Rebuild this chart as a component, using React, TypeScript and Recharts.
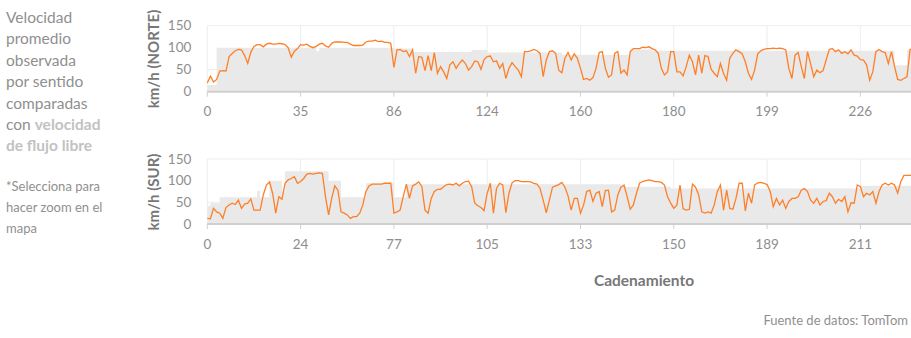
import { ComposedChart, Area, Line, XAxis, YAxis, CartesianGrid } from "recharts";

// km markers shown under each panel (one every 30 samples)
const NORTE_TICKS = ["0", "35", "86", "124", "160", "180", "199", "226"];
const SUR_TICKS = ["0", "24", "77", "105", "133", "150", "189", "211"];

// observed average speed, northbound (km/h)
const NORTE_OBS = [
  20, 35, 22, 28, 47, 48, 47, 80, 87, 93,
  96, 95, 82, 64, 90, 103, 107, 107, 102, 108,
  110, 108, 108, 110, 109, 107, 100, 78, 92, 98,
  107, 106, 108, 103, 100, 103, 108, 110, 104, 101,
  110, 113, 113, 113, 112, 112, 108, 105, 105, 105,
  106, 113, 115, 115, 117, 114, 115, 112, 112, 110,
  55, 95, 96, 91, 93, 80, 95, 42, 80, 78,
  48, 82, 48, 89, 42, 57, 45, 30, 61, 68,
  53, 64, 72, 64, 49, 57, 70, 68, 51, 73,
  80, 81, 68, 70, 53, 64, 30, 53, 66, 57,
  49, 34, 91, 91, 93, 96, 93, 87, 34, 72,
  91, 93, 87, 49, 43, 76, 89, 72, 86, 76,
  53, 28, 30, 26, 32, 53, 89, 91, 53, 33,
  38, 87, 91, 42, 49, 38, 91, 98, 98, 98,
  101, 100, 102, 98, 95, 87, 53, 38, 45, 91,
  91, 45, 45, 36, 57, 83, 68, 38, 83, 42,
  82, 80, 51, 42, 34, 64, 42, 26, 76, 87,
  95, 91, 86, 68, 42, 28, 49, 86, 93, 96,
  98, 98, 99, 98, 99, 98, 95, 53, 30, 83,
  89, 57, 30, 91, 64, 34, 49, 43, 48, 72,
  96, 98, 91, 95, 87, 91, 86, 95, 83, 81,
  73, 72, 61, 26, 45, 91, 96, 91, 89, 64,
  91, 57, 28, 26, 30, 34, 96, 98, 100, 98,
  96, 95,
];

// free-flow speed, northbound (km/h)
const NORTE_FLUJO = [
  15, 15, 15, 100, 100, 100, 100, 100, 100, 100,
  100, 100, 100, 100, 100, 100, 100, 100, 100, 100,
  100, 100, 100, 100, 100, 100, 100, 100, 100, 100,
  100, 100, 100, 100, 100, 92, 100, 100, 100, 100,
  100, 100, 100, 100, 100, 100, 100, 100, 100, 100,
  100, 100, 100, 100, 100, 100, 100, 100, 100, 100,
  98, 98, 98, 98, 98, 98, 90, 90, 90, 90,
  90, 90, 90, 90, 90, 90, 90, 90, 90, 90,
  90, 90, 90, 90, 90, 95, 95, 95, 95, 95,
  89, 89, 89, 89, 89, 89, 89, 89, 89, 89,
  89, 89, 89, 89, 89, 89, 89, 89, 89, 89,
  89, 89, 89, 89, 84, 84, 84, 84, 84, 84,
  84, 84, 84, 84, 84, 84, 84, 84, 84, 84,
  84, 84, 84, 84, 84, 84, 96, 96, 96, 96,
  96, 96, 96, 93, 93, 93, 93, 93, 93, 93,
  93, 93, 93, 93, 93, 93, 93, 93, 93, 93,
  93, 93, 93, 93, 93, 93, 93, 93, 93, 93,
  93, 93, 93, 93, 93, 93, 93, 93, 93, 93,
  93, 93, 93, 93, 93, 93, 93, 93, 93, 93,
  93, 93, 93, 93, 93, 93, 93, 93, 93, 93,
  93, 93, 93, 93, 93, 93, 93, 93, 93, 93,
  93, 93, 93, 93, 93, 93, 93, 93, 93, 93,
  93, 60, 60, 60, 60, 96, 96, 96, 96, 96,
  96, 96,
];

// observed average speed, southbound (km/h)
const SUR_OBS = [
  13, 12, 36, 28, 25, 13, 38, 44, 48, 45,
  55, 36, 46, 48, 58, 32, 32, 32, 67, 90,
  97, 71, 25, 63, 57, 94, 102, 105, 109, 94,
  98, 105, 115, 117, 115, 117, 118, 117, 63, 21,
  59, 88, 78, 28, 25, 21, 13, 17, 17, 25,
  44, 75, 88, 92, 92, 92, 92, 94, 94, 94,
  25, 28, 32, 63, 92, 59, 88, 92, 97, 86,
  32, 25, 59, 75, 80, 80, 86, 91, 92, 90,
  94, 88, 94, 98, 99, 86, 48, 42, 38, 31,
  71, 94, 25, 82, 94, 90, 26, 71, 95, 100,
  100, 98, 98, 98, 97, 94, 92, 82, 55, 26,
  55, 85, 88, 91, 96, 85, 65, 32, 59, 59,
  25, 44, 75, 78, 52, 71, 75, 40, 77, 78,
  28, 32, 67, 85, 90, 63, 34, 44, 71, 94,
  98, 100, 102, 100, 98, 98, 96, 90, 63, 48,
  36, 44, 90, 35, 32, 34, 92, 85, 67, 28,
  25, 28, 25, 44, 75, 90, 32, 78, 36, 34,
  59, 94, 94, 30, 71, 48, 90, 95, 96, 94,
  91, 75, 40, 59, 44, 55, 36, 52, 59, 59,
  63, 78, 82, 75, 55, 48, 59, 44, 52, 54,
  71, 63, 48, 57, 52, 63, 28, 49, 48, 90,
  86, 63, 71, 67, 75, 48, 75, 90, 94, 90,
  94, 90, 71, 98, 112, 112, 112, 112, 112, 112,
  112, 112,
];

// free-flow speed, southbound (km/h)
const SUR_FLUJO = [
  42, 48, 48, 48, 62, 62, 62, 62, 62, 62,
  62, 62, 62, 62, 62, 62, 76, 62, 62, 62,
  100, 100, 100, 100, 75, 122, 122, 122, 122, 122,
  122, 122, 122, 122, 122, 122, 122, 122, 122, 100,
  100, 100, 100, 62, 62, 62, 62, 62, 62, 62,
  62, 94, 94, 94, 94, 94, 94, 94, 94, 94,
  62, 62, 62, 62, 92, 92, 92, 92, 92, 92,
  92, 92, 92, 92, 92, 92, 92, 92, 92, 92,
  92, 92, 92, 92, 92, 92, 92, 92, 92, 92,
  92, 92, 92, 92, 92, 92, 92, 92, 92, 92,
  92, 92, 92, 92, 92, 92, 92, 92, 92, 92,
  92, 92, 92, 92, 92, 92, 92, 92, 92, 92,
  92, 92, 92, 92, 92, 92, 92, 92, 92, 92,
  92, 92, 92, 86, 86, 86, 86, 86, 86, 86,
  86, 86, 86, 86, 86, 86, 86, 86, 86, 82,
  82, 82, 82, 82, 82, 82, 82, 82, 82, 82,
  82, 82, 82, 82, 82, 82, 82, 82, 82, 82,
  82, 82, 82, 82, 82, 82, 82, 82, 82, 82,
  82, 82, 82, 82, 82, 82, 82, 82, 82, 82,
  82, 82, 82, 82, 82, 82, 82, 82, 82, 82,
  82, 82, 82, 82, 82, 82, 82, 82, 82, 82,
  88, 88, 88, 88, 88, 88, 88, 88, 88, 88,
  88, 88, 88, 88, 88, 88, 88, 88, 88, 88,
  88, 88,
];

const TICK_STEP = 30;
const FONT = "Lato, 'Open Sans', sans-serif";

interface PanelProps {
  obs: number[];
  flujo: number[];
  labels: string[];
  top: number;
  marginTop: number;
  plotHeight: number;
}

function SpeedPanel({ obs, flujo, labels, top, marginTop, plotHeight }: PanelProps) {
  const chartData = obs.map((v, i) => ({ i, obs: v, flujo: flujo[i] }));
  const last = obs.length - 1;
  const ticks = labels.map((_, k) => k * TICK_STEP);

  return (
    <div style={{ position: "absolute", left: 0, top }}>
      <ComposedChart
        width={940}
        height={marginTop + plotHeight + 30}
        data={chartData}
        margin={{ top: marginTop, right: 14.3, left: 0, bottom: 0 }}
      >
        <CartesianGrid stroke="#ededed" strokeWidth={1} />
        <XAxis
          dataKey="i"
          type="number"
          domain={[0, last]}
          ticks={ticks}
          interval={0}
          tickFormatter={(v: number) => labels[Math.round(v / TICK_STEP)]}
          axisLine={{ stroke: "#cfcfcf", strokeWidth: 2 }}
          tickLine={{ stroke: "#cfcfcf" }}
          tickSize={5}
          tickMargin={10}
          height={30}
          tick={{ fill: "#8e8e8e", fontSize: 13.5, fontFamily: FONT }}
        />
        <YAxis
          domain={[0, 150]}
          ticks={[0, 50, 100, 150]}
          axisLine={false}
          tickLine={false}
          width={207.3}
          tickMargin={10}
          tick={{ fill: "#8e8e8e", fontSize: 13.5, fontFamily: FONT }}
        />
        <Area
          type="stepAfter"
          dataKey="flujo"
          stroke="none"
          fill="#e9e9e9"
          fillOpacity={1}
          isAnimationActive={false}
        />
        <Line
          type="linear"
          dataKey="obs"
          stroke="#ff7f27"
          strokeWidth={1.3}
          dot={false}
          isAnimationActive={false}
        />
      </ComposedChart>
    </div>
  );
}

function AxisTitle({ text, x, y }: { text: string; x: number; y: number }) {
  return (
    <div
      style={{
        position: "absolute",
        left: x,
        top: y,
        transform: "translate(-50%, -50%) rotate(-90deg)",
        whiteSpace: "nowrap",
        fontSize: 15,
        fontWeight: 700,
        color: "#777",
      }}
    >
      {text}
    </div>
  );
}

export default function App() {
  return (
    <div
      style={{
        position: "fixed",
        left: 0,
        top: 0,
        width: 911,
        height: 338,
        overflow: "hidden",
        background: "#fff",
        fontFamily: FONT,
      }}
    >
      <div
        style={{
          position: "absolute",
          left: 6,
          top: 7,
          width: 130,
          fontSize: 15.5,
          lineHeight: "21.4px",
          color: "#8f8f8f",
        }}
      >
        Velocidad
        <br />
        promedio
        <br />
        observada
        <br />
        por sentido
        <br />
        comparadas
        <br />
        con{" "}
        <span style={{ color: "#c2c2c2", fontWeight: 700 }}>
          velocidad
          <br />
          de flujo libre
        </span>
      </div>
      <div
        style={{
          position: "absolute",
          left: 6,
          top: 176,
          width: 130,
          fontSize: 13,
          lineHeight: "21px",
          color: "#8f8f8f",
        }}
      >
        *Selecciona para
        <br />
        hacer zoom en el
        <br />
        mapa
      </div>

      <SpeedPanel
        obs={NORTE_OBS}
        flujo={NORTE_FLUJO}
        labels={NORTE_TICKS}
        top={0}
        marginTop={25.7}
        plotHeight={66}
      />
      <SpeedPanel
        obs={SUR_OBS}
        flujo={SUR_FLUJO}
        labels={SUR_TICKS}
        top={133}
        marginTop={26}
        plotHeight={65}
      />

      <AxisTitle text="km/h (NORTE)" x={153} y={59} />
      <AxisTitle text="km/h (SUR)" x={153} y={192} />

      <div
        style={{
          position: "absolute",
          left: 644,
          top: 280,
          transform: "translate(-50%, -50%)",
          fontSize: 15.5,
          fontWeight: 700,
          color: "#777",
          whiteSpace: "nowrap",
        }}
      >
        Cadenamiento
      </div>
      <div
        style={{
          position: "absolute",
          right: 3,
          top: 312,
          fontSize: 13,
          color: "#8f8f8f",
          whiteSpace: "nowrap",
        }}
      >
        Fuente de datos: TomTom
      </div>
    </div>
  );
}
